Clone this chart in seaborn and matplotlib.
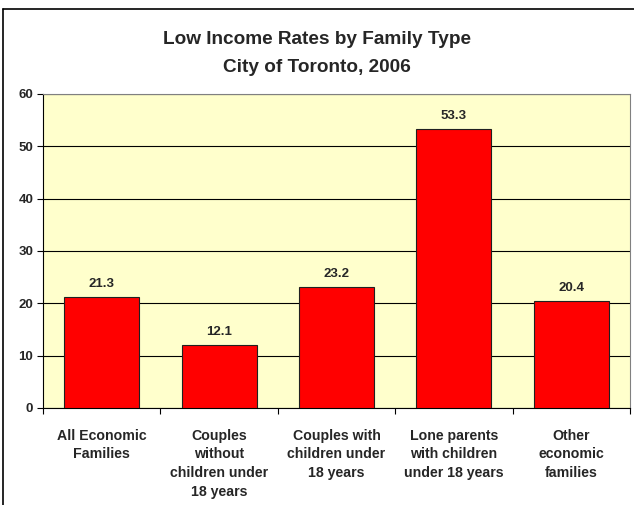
import matplotlib
matplotlib.use("Agg")
import matplotlib.pyplot as plt
import seaborn as sns
import pandas as pd
from matplotlib.lines import Line2D
from matplotlib.ticker import FixedLocator

categories = ["All Economic\nFamilies", "Couples\nwithout\nchildren under\n18 years",
              "Couples with\nchildren under\n18 years", "Lone parents\nwith children\nunder 18 years",
              "Other\neconomic\nfamilies"]
values = [21.3, 12.1, 23.2, 53.3, 20.4]
yticks = [0, 10, 20, 30, 40, 50, 60]

sns.set_theme(style="white")
plt.rcParams['font.family'] = ['Liberation Sans', 'DejaVu Sans']

df = pd.DataFrame({"cat": categories, "val": values})

fig = plt.figure(figsize=(6.34, 5.05), dpi=100)
ax = fig.add_axes([43/634, (505-408)/505, (630-43)/634, (408-94)/505])
sns.barplot(data=df, x="cat", y="val", color="#FF0000", saturation=1, width=0.64,
            edgecolor="#202020", linewidth=0.8, ax=ax, zorder=3)
ax.set_facecolor("#FFFFCC")
ax.set_ylim(0, 60)
ax.set_xlim(-0.5, len(categories) - 0.5)
ax.set_yticks(yticks)
ax.set_yticklabels([str(t) for t in yticks], fontsize=9.5, fontweight="bold")
ax.yaxis.grid(True, color="black", linewidth=0.8, zorder=0)
ax.set_axisbelow(True)
ax.set_xlabel("")
ax.set_ylabel("")
ax.tick_params(axis="x", which="major", length=0, pad=15)
ax.tick_params(axis="y", which="major", length=4, width=0.8, color="black", direction="out", left=True, pad=3)
ax.xaxis.set_minor_locator(FixedLocator([i - 0.5 for i in range(len(categories) + 1)]))
ax.tick_params(axis="x", which="minor", length=4, width=0.8, color="black", direction="out", bottom=True)
for lbl in ax.get_xticklabels():
    lbl.set_fontsize(10.2)
    lbl.set_fontweight("bold")
    lbl.set_linespacing(1.42)
    lbl.set_verticalalignment("top")
ax.spines["left"].set_color("black")
ax.spines["bottom"].set_color("black")
ax.spines["top"].set_color("#808080")
ax.spines["right"].set_color("#808080")
for s in ax.spines.values():
    s.set_linewidth(0.8)

for c in ax.containers:
    ax.bar_label(c, labels=[f"{v:.1f}" for v in values], padding=5, fontsize=9.5, fontweight="bold")

fig.text(0.5, 1 - 40/505, "Low Income Rates by Family Type", ha="center", va="center",
         fontsize=13.7, fontweight="bold")
fig.text(0.5, 1 - 68/505, "City of Toronto, 2006", ha="center", va="center",
         fontsize=13.7, fontweight="bold")

# outer chart border (left and top visible)
fig.add_artist(Line2D([3/634, 3/634], [0, 1 - 9/505], color="black", linewidth=1.2, transform=fig.transFigure))
fig.add_artist(Line2D([3/634, 1], [1 - 9/505, 1 - 9/505], color="black", linewidth=1.2, transform=fig.transFigure))

fig.savefig("out.png", dpi=100)
